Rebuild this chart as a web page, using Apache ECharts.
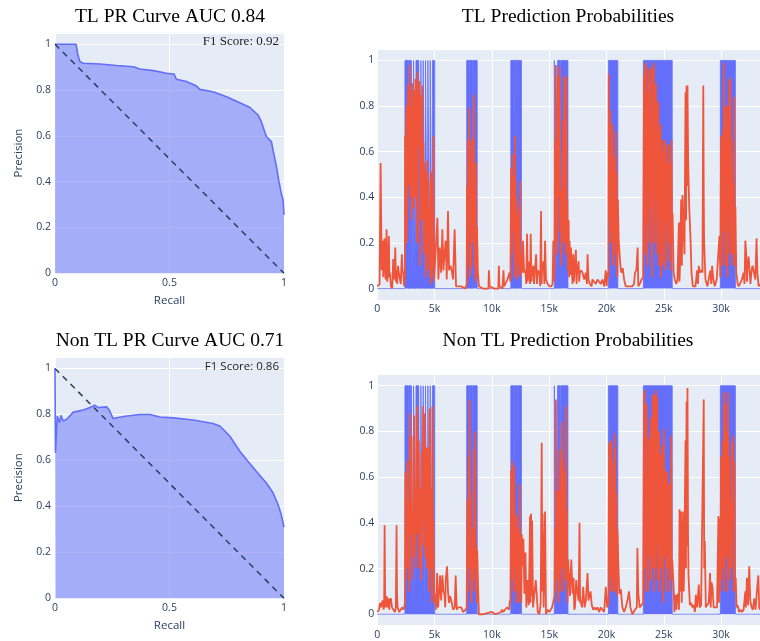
<!DOCTYPE html>
<html><head><meta charset="utf-8">
<script src="https://cdn.jsdelivr.net/npm/echarts@6/dist/echarts.min.js"></script>
<style>html,body{margin:0;padding:0;background:#fff}#c{width:760px;height:641px}</style>
</head><body><div id="c"></div>
<script>
// ---------- DATA ----------
const prTitles = ['TL PR Curve AUC 0.84', 'Non TL PR Curve AUC 0.71'];
const probTitles = ['TL Prediction Probabilities', 'Non TL Prediction Probabilities'];
const f1Labels = ['F1 Score: 0.92', 'F1 Score: 0.86'];

// [recall, precision]
const tlPR = [[0,1],[0.092,1],[0.1,0.953],[0.109,0.924],[0.124,0.917],[0.196,0.914],[0.269,0.907],[0.342,0.902],[0.37,0.892],[0.429,0.885],[0.487,0.873],[0.52,0.87],[0.53,0.847],[0.574,0.837],[0.618,0.818],[0.632,0.803],[0.69,0.793],[0.749,0.771],[0.807,0.745],[0.85,0.725],[0.887,0.691],[0.901,0.662],[0.923,0.597],[0.945,0.575],[0.955,0.524],[0.967,0.466],[0.978,0.4],[0.988,0.349],[0.996,0.32],[1,0.255]];
const nonTlPR = [[0,1],[0.002,0.633],[0.01,0.793],[0.019,0.764],[0.026,0.796],[0.036,0.771],[0.051,0.779],[0.08,0.81],[0.124,0.819],[0.153,0.83],[0.174,0.84],[0.189,0.83],[0.225,0.833],[0.237,0.819],[0.254,0.782],[0.269,0.786],[0.313,0.793],[0.371,0.8],[0.414,0.8],[0.458,0.789],[0.516,0.785],[0.603,0.776],[0.69,0.761],[0.72,0.75],[0.763,0.706],[0.807,0.64],[0.836,0.604],[0.879,0.553],[0.923,0.502],[0.952,0.459],[0.974,0.408],[0.988,0.364],[1,0.31]];
const chanceLine = [[0,1],[1,0]];

// ground truth events, in thousands of samples
const truthBlocks = [[2.41,5.01],[7.80,8.72],[11.65,12.58],[15.45,16.64],[20.17,20.99],[23.22,25.74],[29.94,31.25]];
const truthGaps = [[2.70,2.745],[2.92,2.965],[3.12,3.165],[3.33,3.375],[3.56,3.605],[3.76,3.805],[3.96,4.005],[4.16,4.205],[4.37,4.415],[4.57,4.615],[4.77,4.815],[8.04,8.085],[8.27,8.315],[11.93,11.97],[12.21,12.25],[15.62,15.74],[15.94,16.00]];
const sampleMaxK = 33.4;

// predicted probability, [thousand samples, p]
const tlProb = [[0,0.01],[0.09,0.01],[0.20,0.02],[0.29,0.55],[0.34,0.30],[0.38,0.08],[0.46,0.21],[0.52,0.05],[0.58,0.10],[0.62,0.22],[0.67,0.15],[0.72,0.04],[0.81,0.26],[0.87,0.03],[0.93,0.07],[1.01,0.23],[1.06,0.05],[1.10,0.07],[1.19,0.01],[1.30,0.00],[1.39,0.13],[1.45,0.04],[1.51,0.07],[1.57,0.18],[1.62,0.03],[1.68,0.08],[1.74,0.02],[1.80,0.10],[1.88,0.07],[1.97,0.07],[2.05,0.02],[2.14,0.15],[2.20,0.08],[2.26,0.07],[2.35,0.01],
[2.41,0.05],[2.43,0.67],[2.47,0.30],[2.51,0.72],[2.55,0.80],[2.60,0.20],[2.65,0.79],[2.70,0.89],[2.74,0.45],[2.79,0.70],[2.84,0.98],[2.88,0.40],[2.93,0.80],[2.97,0.62],[3.00,0.30],[3.04,0.90],[3.08,0.55],[3.13,0.80],[3.17,0.35],[3.22,0.87],[3.26,0.62],[3.30,0.40],[3.33,0.92],[3.37,0.65],[3.42,0.83],[3.46,0.20],[3.51,0.95],[3.55,0.62],[3.59,0.87],[3.63,0.70],[3.68,0.91],[3.72,0.10],[3.77,0.62],[3.81,0.85],[3.86,0.80],[3.90,0.30],[3.94,0.89],[3.98,0.45],[4.03,0.64],[4.07,0.15],[4.12,0.55],[4.16,0.35],[4.20,0.51],[4.25,0.05],[4.29,0.40],[4.33,0.20],[4.38,0.56],[4.42,0.08],[4.46,0.48],[4.52,0.25],[4.58,0.36],[4.63,0.02],[4.70,0.51],[4.75,0.05],[4.81,0.27],[4.86,0.10],[4.90,0.67],[4.95,0.03],[4.99,0.07],
[5.10,0.07],[5.25,0.31],[5.33,0.04],[5.45,0.18],[5.57,0.07],[5.68,0.26],[5.77,0.08],[5.86,0.15],[5.97,0.21],[6.06,0.04],[6.17,0.34],[6.26,0.08],[6.38,0.10],[6.49,0.08],[6.61,0.04],[6.75,0.26],[6.87,0.01],[7.04,0.01],[7.30,0.01],[7.70,0.00],
[7.80,0.02],[7.83,0.45],[7.87,0.10],[7.91,0.65],[7.97,0.30],[8.03,0.79],[8.07,0.05],[8.12,0.36],[8.17,0.08],[8.23,0.65],[8.29,0.20],[8.35,0.66],[8.39,0.30],[8.43,0.85],[8.47,0.10],[8.52,0.48],[8.56,0.03],[8.61,0.55],[8.66,0.05],[8.70,0.27],[8.78,0.07],[8.87,0.01],
[9.20,0.00],[9.70,0.00],[9.74,0.08],[9.80,0.01],[10.20,0.00],[10.56,0.00],[10.61,0.10],[10.66,0.01],[10.93,0.00],[11.01,0.08],[11.07,0.01],[11.36,0.04],[11.54,0.07],
[11.62,0.03],[11.68,0.53],[11.73,0.15],[11.80,0.59],[11.85,0.25],[11.91,0.49],[11.97,0.05],[12.03,0.67],[12.07,0.20],[12.12,0.40],[12.17,0.04],[12.23,0.33],[12.29,0.10],[12.35,0.36],[12.40,0.06],[12.46,0.47],[12.50,0.05],[12.55,0.15],[12.64,0.07],[12.72,0.21],[12.81,0.07],[12.93,0.08],
[13.00,0.02],[13.07,0.24],[13.13,0.03],[13.19,0.07],[13.28,0.12],[13.33,0.02],[13.39,0.24],[13.45,0.03],[13.51,0.07],[13.62,0.10],[13.68,0.02],[13.74,0.07],[13.86,0.15],[13.93,0.02],[14.00,0.08],[14.14,0.07],[14.22,0.01],[14.29,0.34],[14.34,0.02],[14.38,0.08],[14.52,0.12],[14.58,0.02],[14.64,0.21],[14.72,0.04],[14.87,0.02],[15.01,0.01],[15.19,0.01],[15.30,0.02],[15.36,0.21],[15.41,0.03],
[15.47,0.10],[15.51,0.65],[15.55,0.20],[15.59,0.98],[15.63,0.35],[15.68,0.72],[15.72,0.15],[15.77,0.93],[15.81,0.40],[15.86,0.65],[15.91,0.97],[15.95,0.25],[16.00,0.43],[16.05,0.10],[16.12,0.27],[16.17,0.50],[16.23,0.74],[16.27,0.20],[16.32,0.93],[16.36,0.30],[16.41,0.58],[16.45,0.15],[16.49,0.93],[16.54,0.20],[16.58,0.39],[16.63,0.08],[16.70,0.30],[16.74,0.05],[16.78,0.21],[16.84,0.06],[16.90,0.18],[16.99,0.07],[17.04,0.02],[17.10,0.15],[17.16,0.03],[17.22,0.08],[17.33,0.17],[17.39,0.02],[17.45,0.08],[17.57,0.12],[17.62,0.03],[17.68,0.07],[17.80,0.08],[17.91,0.07],[18.06,0.04],[18.20,0.07],[18.30,0.02],[18.35,0.15],[18.43,0.04],[18.55,0.02],[18.70,0.01],[18.78,0.04],[18.93,0.03],[19.07,0.02],[19.22,0.04],[19.36,0.04],[19.51,0.02],[19.65,0.04],[19.80,0.01],[19.94,0.08],[20.02,0.01],[20.09,0.07],
[20.17,0.05],[20.20,0.94],[20.24,0.30],[20.29,0.74],[20.33,0.78],[20.37,0.20],[20.41,0.65],[20.46,0.25],[20.52,0.72],[20.56,0.10],[20.61,0.48],[20.66,0.15],[20.70,0.58],[20.75,0.20],[20.81,0.69],[20.85,0.10],[20.90,0.51],[20.95,0.05],[20.99,0.39],[21.07,0.21],[21.16,0.14],[21.25,0.08],[21.33,0.07],[21.42,0.09],[21.54,0.04],[21.68,0.01],[21.97,0.01],[22.26,0.01],[22.40,0.02],[22.49,0.07],[22.61,0.08],[22.72,0.18],[22.78,0.01],[22.90,0.02],[23.07,0.04],
[23.20,0.05],[23.28,0.94],[23.32,0.30],[23.36,0.98],[23.40,0.15],[23.45,0.99],[23.49,0.40],[23.54,0.86],[23.58,0.10],[23.65,0.96],[23.69,0.50],[23.74,0.80],[23.78,0.20],[23.83,0.97],[23.88,0.35],[23.94,0.70],[23.98,0.05],[24.03,0.97],[24.08,0.45],[24.14,0.99],[24.18,0.20],[24.23,0.86],[24.27,0.50],[24.32,0.90],[24.37,0.15],[24.41,0.81],[24.46,0.40],[24.52,0.82],[24.56,0.10],[24.61,0.69],[24.66,0.30],[24.72,0.72],[24.76,0.05],[24.81,0.61],[24.86,0.25],[24.90,0.65],[24.95,0.10],[25.01,0.60],[25.05,0.35],[25.10,0.65],[25.15,0.08],[25.22,0.63],[25.27,0.30],[25.33,0.55],[25.38,0.12],[25.45,0.63],[25.50,0.20],[25.59,0.55],[25.63,0.08],[25.68,0.65],[25.72,0.25],[25.77,0.33],[25.86,0.07],[25.97,0.04],
[26.09,0.02],[26.20,0.04],[26.32,0.29],[26.37,0.03],[26.41,0.08],[26.52,0.39],[26.58,0.10],[26.64,0.41],[26.72,0.27],[26.81,0.15],[26.90,0.86],[26.95,0.30],[26.99,0.89],[27.03,0.45],[27.07,0.89],[27.13,0.55],[27.22,0.36],[27.33,0.23],[27.42,0.07],[27.54,0.01],[27.77,0.01],[27.91,0.08],[27.98,0.02],[28.06,0.10],[28.14,0.07],[28.26,0.08],[28.38,0.07],[28.45,0.89],[28.49,0.40],[28.52,0.21],[28.64,0.04],[28.81,0.01],[28.99,0.06],[29.07,0.08],[29.15,0.02],[29.22,0.10],[29.33,0.04],[29.45,0.01],[29.62,0.04],[29.74,0.04],[29.86,0.23],
[29.94,0.05],[30.00,0.67],[30.04,0.20],[30.09,0.36],[30.13,0.10],[30.17,0.70],[30.22,0.25],[30.26,0.99],[30.30,0.30],[30.35,0.65],[30.39,0.10],[30.43,0.80],[30.48,0.20],[30.52,0.45],[30.56,0.05],[30.61,0.80],[30.66,0.35],[30.72,0.92],[30.76,0.15],[30.81,0.92],[30.86,0.25],[30.90,0.65],[30.95,0.10],[31.01,0.46],[31.07,0.15],[31.16,0.84],[31.20,0.10],[31.25,0.36],[31.33,0.07],[31.45,0.02],[31.54,0.01],[31.68,0.01],[31.83,0.04],[31.97,0.07],[32.05,0.02],[32.12,0.21],[32.20,0.15],[32.26,0.03],[32.32,0.10],[32.41,0.14],[32.49,0.08],[32.57,0.02],[32.64,0.07],[32.75,0.10],[32.87,0.07],[32.99,0.04],[33.10,0.22],[33.17,0.07],[33.28,0.01],[33.40,0.02]];

const nonTlProb = [[0,0.01],[0.09,0.01],[0.16,0.02],[0.23,0.05],[0.32,0.03],[0.46,0.06],[0.55,0.02],[0.60,0.05],[0.64,0.39],[0.68,0.10],[0.72,0.03],[0.81,0.08],[0.90,0.03],[0.99,0.07],[1.04,0.02],[1.10,0.06],[1.19,0.07],[1.28,0.03],[1.39,0.03],[1.54,0.01],[1.62,0.03],[1.68,0.39],[1.72,0.10],[1.77,0.03],[1.91,0.01],[2.03,0.02],[2.17,0.03],[2.26,0.02],[2.35,0.03],
[2.41,0.05],[2.46,0.62],[2.50,0.15],[2.55,0.40],[2.61,0.67],[2.65,0.20],[2.70,0.48],[2.75,0.50],[2.79,0.10],[2.84,0.88],[2.88,0.35],[2.93,0.60],[2.99,0.78],[3.03,0.15],[3.08,0.45],[3.13,0.45],[3.17,0.25],[3.22,0.87],[3.27,0.30],[3.33,0.55],[3.37,0.20],[3.42,0.57],[3.48,0.91],[3.52,0.35],[3.57,0.50],[3.62,0.76],[3.67,0.20],[3.74,0.30],[3.79,0.55],[3.84,0.15],[3.88,0.71],[3.93,0.40],[4.00,0.91],[4.05,0.30],[4.10,0.55],[4.14,0.88],[4.19,0.25],[4.24,0.60],[4.29,0.73],[4.33,0.20],[4.38,0.45],[4.43,0.73],[4.48,0.30],[4.53,0.10],[4.58,0.90],[4.62,0.35],[4.67,0.20],[4.72,0.55],[4.76,0.05],[4.81,0.91],[4.86,0.20],[4.90,0.41],[4.95,0.10],[4.99,0.05],
[5.07,0.09],[5.14,0.02],[5.22,0.18],[5.30,0.03],[5.39,0.09],[5.48,0.17],[5.57,0.06],[5.68,0.17],[5.77,0.10],[5.86,0.09],[5.93,0.03],[5.97,0.15],[6.09,0.21],[6.17,0.10],[6.26,0.05],[6.35,0.08],[6.46,0.06],[6.61,0.02],[6.75,0.03],[6.84,0.17],[6.93,0.02],[7.04,0.03],[7.19,0.03],[7.33,0.03],[7.48,0.01],[7.71,0.02],
[7.80,0.03],[7.86,0.50],[7.91,0.10],[7.97,0.69],[8.02,0.20],[8.06,0.94],[8.10,0.30],[8.14,0.53],[8.19,0.05],[8.23,0.24],[8.29,0.10],[8.35,0.38],[8.40,0.15],[8.46,0.72],[8.50,0.20],[8.55,0.80],[8.60,0.10],[8.64,0.30],[8.68,0.05],[8.72,0.28],[8.81,0.09],[8.87,0.00],
[9.20,0.00],[10.00,0.01],[10.30,0.00],[10.80,0.01],[10.90,0.02],[11.00,0.01],[11.30,0.03],[11.50,0.02],[11.57,0.06],
[11.62,0.05],[11.68,0.63],[11.72,0.20],[11.77,0.67],[11.81,0.15],[11.86,0.43],[11.90,0.10],[11.94,0.65],[12.00,0.20],[12.06,0.44],[12.10,0.05],[12.14,0.43],[12.19,0.10],[12.23,0.21],[12.32,0.38],[12.37,0.05],[12.43,0.57],[12.48,0.10],[12.52,0.24],[12.57,0.05],[12.61,0.35],[12.70,0.21],[12.75,0.33],[12.84,0.09],[12.93,0.27],[13.01,0.03],[13.13,0.15],[13.22,0.04],[13.33,0.43],[13.37,0.05],[13.42,0.44],[13.47,0.08],[13.51,0.41],[13.59,0.03],[13.71,0.09],[13.83,0.15],[13.91,0.09],[14.00,0.01],[14.14,0.00],[14.26,0.05],[14.35,0.75],[14.40,0.10],[14.43,0.44],[14.52,0.03],[14.64,0.45],[14.72,0.00],[14.87,0.02],[15.01,0.01],[15.25,0.03],[15.39,0.03],
[15.47,0.08],[15.51,0.38],[15.55,0.10],[15.59,0.94],[15.63,0.25],[15.68,0.53],[15.72,0.15],[15.77,0.54],[15.81,0.05],[15.86,0.24],[15.94,0.72],[15.98,0.10],[16.03,0.33],[16.08,0.20],[16.12,0.84],[16.16,0.30],[16.20,0.67],[16.25,0.10],[16.29,0.44],[16.33,0.15],[16.38,0.63],[16.42,0.20],[16.46,0.91],[16.51,0.15],[16.55,0.46],[16.60,0.05],[16.64,0.24],[16.72,0.18],[16.81,0.08],[16.93,0.24],[17.04,0.09],[17.13,0.16],[17.19,0.02],[17.25,0.03],[17.36,0.15],[17.45,0.10],[17.57,0.06],[17.65,0.40],[17.70,0.05],[17.74,0.06],[17.86,0.03],[17.97,0.12],[18.09,0.03],[18.20,0.06],[18.35,0.18],[18.43,0.06],[18.52,0.06],[18.61,0.10],[18.72,0.04],[18.84,0.02],[18.96,0.03],[19.07,0.02],[19.22,0.03],[19.36,0.01],[19.51,0.03],[19.65,0.02],[19.80,0.01],[19.94,0.12],[20.06,0.03],
[20.17,0.05],[20.23,0.75],[20.27,0.20],[20.32,0.73],[20.36,0.10],[20.41,0.76],[20.46,0.15],[20.52,0.46],[20.57,0.10],[20.61,0.67],[20.66,0.25],[20.70,0.79],[20.74,0.10],[20.78,0.73],[20.83,0.20],[20.87,0.53],[20.92,0.08],[20.96,0.37],[21.04,0.21],[21.13,0.09],[21.25,0.11],[21.39,0.03],[21.54,0.01],[21.68,0.03],[21.83,0.06],[21.97,0.10],[22.09,0.03],[22.26,0.00],[22.49,0.02],[22.65,0.03],[22.70,0.29],[22.78,0.09],[22.90,0.03],[23.07,0.03],
[23.20,0.05],[23.28,0.97],[23.31,0.20],[23.33,0.98],[23.38,0.30],[23.42,0.60],[23.46,0.10],[23.51,0.92],[23.56,0.35],[23.61,0.55],[23.66,0.10],[23.71,0.77],[23.76,0.25],[23.80,0.45],[23.86,0.86],[23.90,0.15],[23.95,0.60],[24.00,0.30],[24.03,0.96],[24.08,0.20],[24.13,0.70],[24.17,0.10],[24.20,0.96],[24.25,0.40],[24.28,0.20],[24.32,0.98],[24.37,0.30],[24.43,0.95],[24.48,0.15],[24.53,0.55],[24.58,0.80],[24.63,0.10],[24.67,0.45],[24.72,0.70],[24.77,0.20],[24.82,0.50],[24.87,0.74],[24.92,0.05],[24.96,0.40],[25.01,0.81],[25.06,0.25],[25.11,0.45],[25.16,0.63],[25.21,0.10],[25.25,0.35],[25.30,0.62],[25.35,0.20],[25.40,0.40],[25.45,0.57],[25.50,0.10],[25.55,0.30],[25.60,0.45],[25.65,0.78],[25.70,0.15],[25.74,0.24],[25.86,0.12],[25.93,0.01],
[26.03,0.085],[26.10,0.02],[26.17,0.08],[26.26,0.09],[26.33,0.02],[26.38,0.46],[26.42,0.10],[26.46,0.17],[26.52,0.45],[26.57,0.05],[26.61,0.17],[26.70,0.45],[26.74,0.10],[26.78,0.20],[26.90,0.76],[26.94,0.20],[26.99,0.93],[27.03,0.30],[27.07,0.99],[27.12,0.35],[27.16,0.17],[27.28,0.04],[27.39,0.05],[27.51,0.03],[27.62,0.04],[27.72,0.01],[27.80,0.085],[27.91,0.03],[28.06,0.13],[28.14,0.03],[28.26,0.04],[28.38,0.04],[28.49,0.94],[28.53,0.20],[28.58,0.32],[28.67,0.03],[28.78,0.04],[28.93,0.05],[29.04,0.18],[29.10,0.03],[29.16,0.14],[29.25,0.12],[29.36,0.03],[29.51,0.03],[29.65,0.03],[29.77,0.43],[29.82,0.05],[29.88,0.42],
[29.94,0.10],[30.00,0.69],[30.04,0.15],[30.09,0.40],[30.14,0.76],[30.19,0.20],[30.26,0.97],[30.29,0.10],[30.32,0.50],[30.38,0.92],[30.43,0.25],[30.49,0.80],[30.55,0.45],[30.58,0.10],[30.61,0.97],[30.66,0.30],[30.72,0.69],[30.77,0.15],[30.84,0.50],[30.90,0.20],[30.96,0.75],[31.01,0.40],[31.07,0.78],[31.11,0.10],[31.16,0.67],[31.22,0.10],[31.28,0.16],[31.36,0.03],[31.45,0.04],[31.57,0.01],[31.68,0.02],[31.83,0.01],[31.97,0.02],[32.12,0.10],[32.17,0.03],[32.26,0.16],[32.35,0.04],[32.46,0.21],[32.55,0.06],[32.67,0.03],[32.78,0.02],[32.90,0.07],[33.01,0.02],[33.13,0.10],[33.25,0.17],[33.33,0.03],[33.40,0.02]];

// ---------- BUILD ----------
function buildTruth() {
  const pts = [[0, 0]];
  truthBlocks.forEach(([s, e]) => {
    pts.push([s, 0], [s, 1]);
    truthGaps.filter(g => g[0] > s && g[1] < e).forEach(([a, b]) => {
      pts.push([a, 1], [a, 0], [b, 0], [b, 1]);
    });
    pts.push([e, 1], [e, 0]);
  });
  pts.push([sampleMaxK, 0]);
  return pts.map(p => [p[0] * 1000, p[1]]);
}
const toSamples = arr => arr.map(p => [p[0] * 1000, p[1]]);

const BLUE = '#636efa', RED = '#EF553B', FONT = '"Open Sans", "Liberation Sans", sans-serif';
const labelStyle = { color: '#2a3f5f', fontSize: 10.5, fontFamily: FONT };
const nameStyle = { color: '#2a3f5f', fontSize: 11.5, fontFamily: FONT };
const splitLine = { show: true, lineStyle: { color: '#ffffff', width: 1 } };

const grids = [
  { left: 55, top: 32.8, width: 229, height: 240.5 },
  { left: 55, top: 357, width: 229, height: 241.3 },
  { left: 377.3, top: 49, width: 385.4, height: 251 },
  { left: 377.3, top: 374.3, width: 385.4, height: 251.4 }
].map(g => Object.assign(g, { show: true, backgroundColor: '#e5ecf6', borderWidth: 0, containLabel: false }));

const xAxes = [], yAxes = [];
[0, 1].forEach(i => {
  xAxes.push({ gridIndex: i, type: 'value', min: 0, max: 1, interval: 0.5,
    name: 'Recall', nameLocation: 'middle', nameGap: 21, nameTextStyle: nameStyle,
    axisLine: { show: false }, axisTick: { show: false }, splitLine,
    axisLabel: Object.assign({ margin: 4 }, labelStyle) });
  yAxes.push({ gridIndex: i, type: 'value', min: 0, max: 1.05, interval: 0.2,
    name: 'Precision', nameLocation: 'middle', nameGap: 30, nameTextStyle: nameStyle,
    axisLine: { show: false }, axisTick: { show: false }, splitLine,
    axisLabel: Object.assign({ margin: 4, showMaxLabel: false }, labelStyle) });
});
[2, 3].forEach(i => {
  xAxes.push({ gridIndex: i, type: 'value', min: 0, max: sampleMaxK * 1000, interval: 5000,
    axisLine: { show: false }, axisTick: { show: false }, splitLine,
    axisLabel: Object.assign({ margin: 4, showMaxLabel: false,
      formatter: v => v === 0 ? '0' : (v / 1000) + 'k' }, labelStyle) });
  yAxes.push({ gridIndex: i, type: 'value', min: -0.05, max: 1.05, splitNumber: 5,
    axisLine: { show: false }, axisTick: { show: false }, splitLine,
    axisLabel: Object.assign({ margin: 3, showMaxLabel: false, showMinLabel: false }, labelStyle) });
});

const series = [];
[tlPR, nonTlPR].forEach((d, i) => {
  series.push({ type: 'line', xAxisIndex: i, yAxisIndex: i, data: d, showSymbol: false, symbol: 'none',
    lineStyle: { color: BLUE, width: 1.6 }, areaStyle: { color: BLUE, opacity: 0.5 }, z: 2 });
  series.push({ type: 'line', xAxisIndex: i, yAxisIndex: i, data: chanceLine, showSymbol: false, symbol: 'none',
    lineStyle: { color: '#2a3f5f', width: 1.5, type: [6, 5] }, z: 3 });
});
const truthPts = buildTruth();
[tlProb, nonTlProb].forEach((d, k) => {
  const i = k + 2;
  series.push({ type: 'line', xAxisIndex: i, yAxisIndex: i, data: truthPts, showSymbol: false, symbol: 'none',
    lineStyle: { color: BLUE, width: 0.8 }, areaStyle: { color: BLUE, opacity: 1, origin: 0 }, z: 2 });
  series.push({ type: 'line', xAxisIndex: i, yAxisIndex: i, data: toSamples(d), showSymbol: false, symbol: 'none',
    lineStyle: { color: RED, width: 1.8 }, z: 3 });
});

const titleFont = '19.5px "Liberation Serif", "DejaVu Serif", serif';
const graphic = [
  { type: 'text', x: 170, y: 17, style: { text: prTitles[0], align: 'center', verticalAlign: 'middle', font: titleFont, fill: '#000' } },
  { type: 'text', x: 170, y: 341, style: { text: prTitles[1], align: 'center', verticalAlign: 'middle', font: titleFont, fill: '#000' } },
  { type: 'text', x: 568, y: 17, style: { text: probTitles[0], align: 'center', verticalAlign: 'middle', font: titleFont, fill: '#000' } },
  { type: 'text', x: 568, y: 341, style: { text: probTitles[1], align: 'center', verticalAlign: 'middle', font: titleFont, fill: '#000' } },
  { type: 'text', x: 279, y: 42, z: 100, style: { text: f1Labels[0], align: 'right', verticalAlign: 'middle', font: '13px "Liberation Serif", "DejaVu Serif", serif', fill: '#222' } },
  { type: 'text', x: 279, y: 367, z: 100, style: { text: f1Labels[1], align: 'right', verticalAlign: 'middle', font: '11.5px "Open Sans", sans-serif', fill: '#222' } }
];

const chart = echarts.init(document.getElementById('c'), null, { renderer: 'canvas' });
chart.setOption({ animation: false, backgroundColor: '#ffffff', grid: grids, xAxis: xAxes, yAxis: yAxes, series, graphic });
</script>
</body></html>
